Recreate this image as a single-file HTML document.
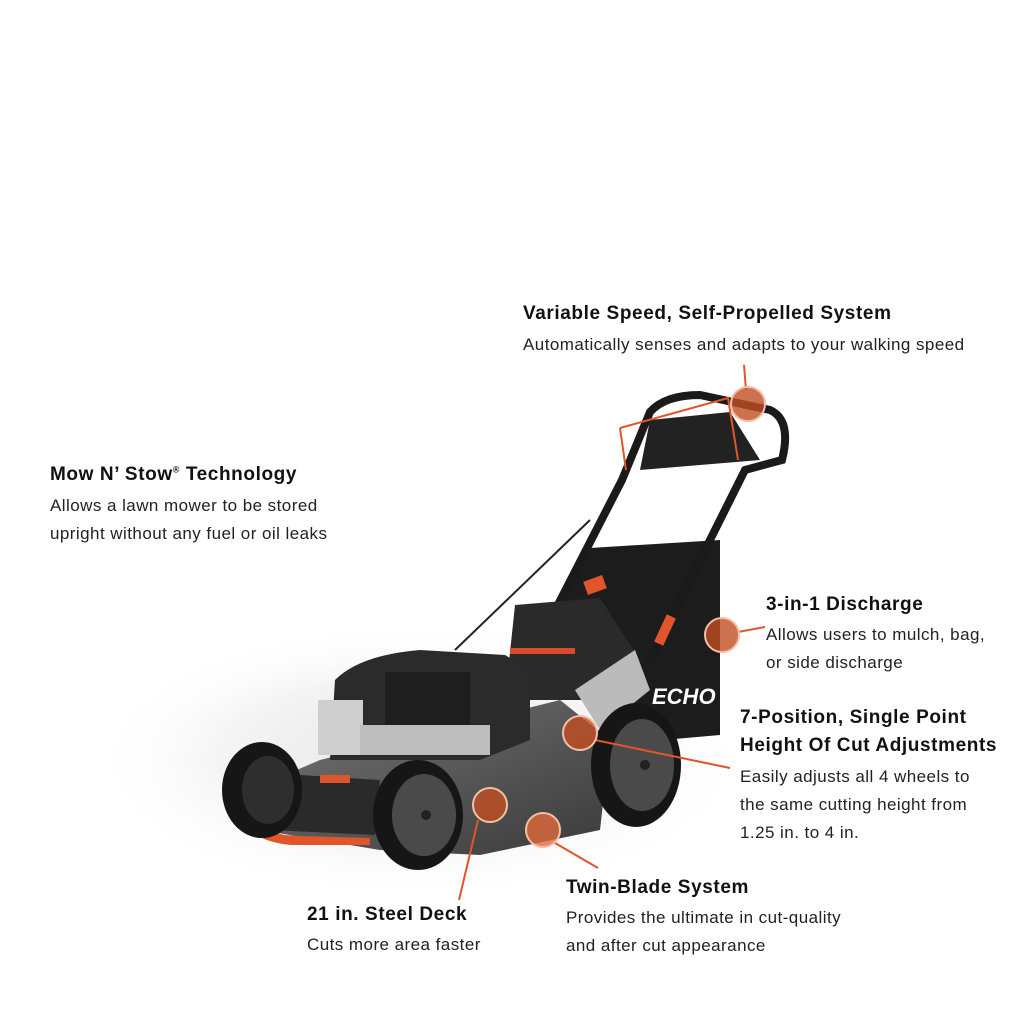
<!DOCTYPE html>
<html><head><meta charset="utf-8"><style>
body{margin:0;width:1024px;height:1024px;background:#fff;position:relative;overflow:hidden;font-family:"Liberation Sans",Arial,sans-serif;color:#111}
.t{position:absolute;font-weight:bold;font-size:19px;letter-spacing:0.6px;white-space:nowrap}
.b{position:absolute;font-size:17px;letter-spacing:0.45px;white-space:nowrap;color:#222}
svg{position:absolute;left:0;top:0}
</style></head><body>
<svg width="1024" height="1024">
<defs>
<radialGradient id="sh" cx="0.5" cy="0.5" r="0.5"><stop offset="0" stop-color="#e6e6e6"/><stop offset="0.6" stop-color="#f4f4f4"/><stop offset="1" stop-color="#fff" stop-opacity="0"/></radialGradient>
<linearGradient id="dk" x1="0" y1="0" x2="1" y2="1"><stop offset="0" stop-color="#777"/><stop offset="1" stop-color="#3a3a3a"/></linearGradient>
</defs>
<ellipse cx="420" cy="760" rx="330" ry="140" fill="url(#sh)"/>
<!-- bag -->
<polygon points="555,605 590,548 720,540 720,735 640,742 590,700" fill="#1c1c1c"/>
<text x="652" y="704" font-family="Liberation Sans" font-weight="bold" font-style="italic" font-size="22" fill="#fff">ECHO</text>
<!-- handle -->
<g stroke="#1a1a1a" stroke-width="8" fill="none" stroke-linecap="round">
<line x1="622" y1="480" x2="545" y2="630"/>
<line x1="745" y1="470" x2="650" y2="660"/>
<path d="M622,480 L650,412 Q665,395 700,395 L770,410 Q792,420 782,460 L745,470"/>
</g>
<path d="M650,420 L730,412 L760,460 L640,470 Z" fill="#222"/>
<line x1="590" y1="520" x2="455" y2="650" stroke="#222" stroke-width="2"/>
<polyline points="620,428 728,398 738,460" fill="none" stroke="#e0552a" stroke-width="2"/>
<line x1="620" y1="428" x2="626" y2="470" stroke="#e0552a" stroke-width="2"/>
<rect x="585" y="578" width="20" height="14" fill="#e0552a" transform="rotate(-20 595 585)"/>
<rect x="660" y="615" width="10" height="30" fill="#e0552a" transform="rotate(25 665 630)"/>
<polygon points="515,605 600,598 640,660 600,700 505,700" fill="#2a2a2a"/>
<rect x="510" y="648" width="65" height="6" fill="#d94a28"/>
<polygon points="575,690 635,650 650,690 600,730" fill="#bbb"/>
<path d="M250,790 L320,760 L560,700 L610,740 L600,830 L480,855 L380,850 L260,830 Z" fill="url(#dk)"/>
<path d="M335,680 Q360,655 420,650 L505,655 L530,670 L530,740 L480,760 L330,760 Z" fill="#2b2b2b"/>
<rect x="385" y="672" width="85" height="65" fill="#1e1e1e"/>
<rect x="318" y="700" width="45" height="55" fill="#cfcfcf"/>
<rect x="360" y="725" width="130" height="30" fill="#bdbdbd"/>
<path d="M245,805 L300,775 L380,780 L375,835 L270,830 Z" fill="#2a2a2a"/>
<path d="M250,818 Q260,835 300,836 L370,838 L370,845 L290,845 Q250,840 248,822 Z" fill="#e0552a"/>
<rect x="320" y="775" width="30" height="8" fill="#e0552a"/>
<g>
<ellipse cx="262" cy="790" rx="40" ry="48" fill="#161616"/><ellipse cx="268" cy="790" rx="26" ry="34" fill="#2e2e2e"/>
<ellipse cx="636" cy="765" rx="45" ry="62" fill="#161616"/><ellipse cx="642" cy="765" rx="32" ry="46" fill="#4a4a4a"/><circle cx="645" cy="765" r="5" fill="#222"/>
<ellipse cx="418" cy="815" rx="45" ry="55" fill="#161616"/><ellipse cx="424" cy="815" rx="32" ry="41" fill="#4a4a4a"/><circle cx="426" cy="815" r="5" fill="#222"/>
</g>
<g stroke="#e0552a" stroke-width="2">
<line x1="744" y1="365" x2="746" y2="390"/>
<line x1="738" y1="632" x2="765" y2="627"/>
<line x1="595" y1="740" x2="730" y2="768"/>
<line x1="478" y1="820" x2="459" y2="900"/>
<line x1="555" y1="843" x2="598" y2="868"/>
</g>
<g fill="#c24e22" fill-opacity="0.8" stroke="#f2c0a8" stroke-width="2">
<circle cx="748" cy="404" r="17"/>
<circle cx="722" cy="635" r="17"/>
<circle cx="580" cy="733" r="17"/>
<circle cx="490" cy="805" r="17"/>
<circle cx="543" cy="830" r="17" fill="#e06a3a"/>
</g>
</svg>
<div class="t" style="left:523px;top:303px">Variable Speed, Self-Propelled System</div>
<div class="b" style="left:523px;top:335px">Automatically senses and adapts to your walking speed</div>
<div class="t" style="left:50px;top:464px">Mow N’ Stow<sup style="font-size:9px">®</sup> Technology</div>
<div class="b" style="left:50px;top:496px">Allows a lawn mower to be stored</div>
<div class="b" style="left:50px;top:524px">upright without any fuel or oil leaks</div>
<div class="t" style="left:766px;top:594px">3-in-1 Discharge</div>
<div class="b" style="left:766px;top:625px">Allows users to mulch, bag,</div>
<div class="b" style="left:766px;top:653px">or side discharge</div>
<div class="t" style="left:740px;top:707px">7-Position, Single Point</div>
<div class="t" style="left:740px;top:735px">Height Of Cut Adjustments</div>
<div class="b" style="left:740px;top:767px">Easily adjusts all 4 wheels to</div>
<div class="b" style="left:740px;top:795px">the same cutting height from</div>
<div class="b" style="left:740px;top:823px">1.25 in. to 4 in.</div>
<div class="t" style="left:566px;top:877px">Twin-Blade System</div>
<div class="b" style="left:566px;top:908px">Provides the ultimate in cut-quality</div>
<div class="b" style="left:566px;top:936px">and after cut appearance</div>
<div class="t" style="left:307px;top:904px">21 in. Steel Deck</div>
<div class="b" style="left:307px;top:935px">Cuts more area faster</div>
</body></html>
